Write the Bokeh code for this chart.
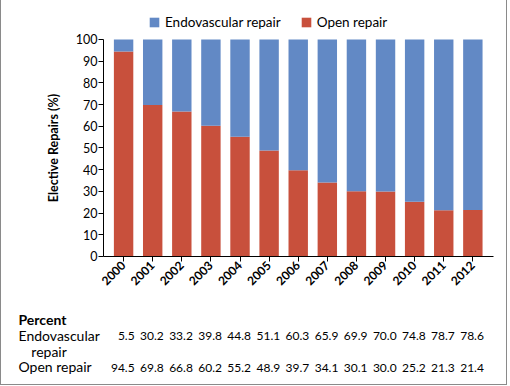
import math
from bokeh.plotting import figure
from bokeh.models import (Range1d, FixedTicker, Legend, LegendItem, ColumnDataSource)
from bokeh.core.properties import value
from bokeh.embed import file_html
from bokeh.resources import INLINE

years = ["2000", "2001", "2002", "2003", "2004", "2005", "2006",
         "2007", "2008", "2009", "2010", "2011", "2012"]
endovascular = [5.5, 30.2, 33.2, 39.8, 44.8, 51.1, 60.3, 65.9, 69.9, 70.0, 74.8, 78.7, 78.6]
open_repair = [94.5, 69.8, 66.8, 60.2, 55.2, 48.9, 39.7, 34.1, 30.1, 30.0, 25.2, 21.3, 21.4]
y_ticks = [0, 10, 20, 30, 40, 50, 60, 70, 80, 90, 100]
row_headers = ["Percent", "Endovascular", "repair", "Open repair"]

BLUE = "#6289c5"
RED = "#c8503c"
FONT = "Lato"
EDGE = "1px solid #8a8a8a"

X_LO, X_HI = -0.69, 12.71      # extent of the axes
idx = list(range(len(years)))
src = ColumnDataSource(dict(x=idx, open=open_repair, endo=endovascular))

# The frame covers the whole canvas so that the legend and the table below
# the axis are drawn inside it; the axes are pinned at x=X_LO and y=0.
p = figure(width=507, height=385, output_backend="svg", toolbar_location=None,
           x_range=Range1d(-4.195, 13.225), y_range=Range1d(-59.45, 117.97),
           min_border_left=0, min_border_right=0, min_border_top=0,
           min_border_bottom=0)
p.styles = {"border-left": EDGE, "border-right": EDGE, "border-bottom": EDGE}
p.outline_line_color = None
p.grid.visible = False

rs = p.vbar_stack(["open", "endo"], x="x", width=0.667, source=src,
                  color=[RED, BLUE], line_color=None)

p.yaxis.fixed_location = X_LO
p.yaxis.bounds = (0, 100)
p.yaxis.ticker = FixedTicker(ticks=y_ticks)
p.yaxis.minor_tick_line_color = None
p.yaxis.major_tick_in = 0
p.yaxis.major_tick_out = 5
p.yaxis.axis_line_color = "black"
p.yaxis.major_tick_line_color = "black"
p.yaxis.major_label_text_font = FONT
p.yaxis.major_label_text_font_size = "12.5px"
p.yaxis.major_label_text_color = "black"
p.yaxis.major_label_standoff = 1
p.yaxis.axis_label = "Elective Repairs (%)"
p.yaxis.axis_label_text_font = FONT
p.yaxis.axis_label_text_font_style = "bold"
p.yaxis.axis_label_text_font_size = "12.5px"
p.yaxis.axis_label_text_color = "black"
p.yaxis.axis_label_standoff = 12

p.xaxis.fixed_location = 0
p.xaxis.bounds = (X_LO, X_HI)
p.xaxis.ticker = FixedTicker(ticks=idx)
p.xaxis.major_label_overrides = {i: y for i, y in zip(idx, years)}
p.xaxis.minor_tick_line_color = None
p.xaxis.major_tick_in = 0
p.xaxis.major_tick_out = 5
p.xaxis.axis_line_color = "black"
p.xaxis.major_tick_line_color = "black"
p.xaxis.major_label_orientation = math.pi / 4
p.xaxis.major_label_text_font = FONT
p.xaxis.major_label_text_font_style = "bold"
p.xaxis.major_label_text_font_size = "12px"
p.xaxis.major_label_text_color = "black"
p.xaxis.major_label_standoff = 2

legend = Legend(items=[LegendItem(label="Endovascular repair", renderers=[rs[1]]),
                       LegendItem(label="Open repair", renderers=[rs[0]])],
                orientation="horizontal", location=(147, 355),
                padding=0, margin=0, spacing=19, label_standoff=5,
                glyph_width=12, glyph_height=12,
                border_line_color=None, background_fill_alpha=0,
                label_text_font=FONT, label_text_font_size="13.5px",
                label_text_color="black")
p.add_layout(legend, "center")

# ---------------- table below the chart ----------------
tbl = ColumnDataSource(dict(
    x=[i + 0.38 for i in idx],
    endo_txt=[f"{v:.1f}" for v in endovascular],
    open_txt=[f"{v:.1f}" for v in open_repair],
    y1=[-36.6] * len(idx),
    y2=[-51.2] * len(idx),
))
for col, ycol in (("endo_txt", "y1"), ("open_txt", "y2")):
    p.text(x="x", y=ycol, text=col, source=tbl, text_align="right",
           text_baseline="middle", text_font=value(FONT),
           text_font_size="12px", text_color="black")

hdr = ColumnDataSource(dict(
    x=[-3.61, -3.61, -3.17, -3.61],
    y=[-29.0, -36.6, -43.6, -50.7],
    text=row_headers,
    style=["bold", "normal", "normal", "normal"],
))
p.text(x="x", y="y", text="text", source=hdr, text_align="left",
       text_baseline="middle", text_font=value(FONT), text_font_size="14px",
       text_font_style="style", text_color="black")

open("out.html", "w").write(file_html(p, INLINE))
